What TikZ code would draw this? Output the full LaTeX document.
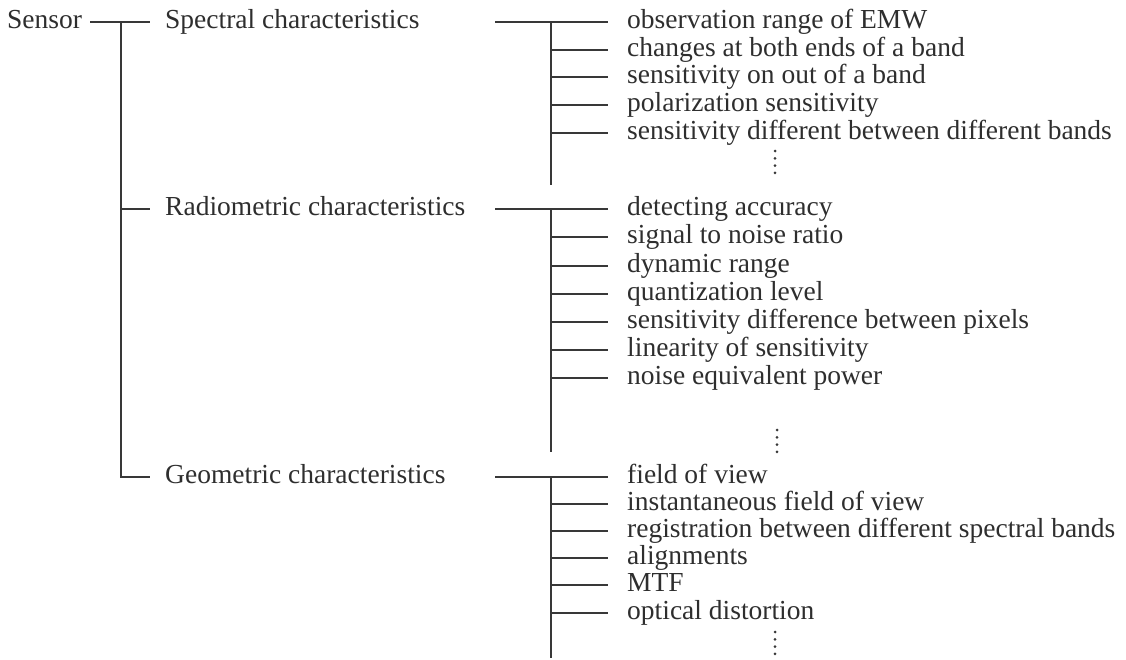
\documentclass[tikz,border=0pt]{standalone}
\usepackage{fontspec}
\setmainfont{Liberation Serif}
\definecolor{ink}{gray}{0.18}
\definecolor{rule}{gray}{0.22}
\tikzset{
  lbl/.style={inner sep=0pt, anchor=base west, yshift=-6.5pt, text=ink, font=\fontsize{27.5}{30}\selectfont},
  conn/.style={draw=rule, line width=1.6pt},
  dotmark/.style={fill=rule},
  row/.style={yshift=6.5pt}
}
\begin{document}
\begin{tikzpicture}[x=1pt,y=-1pt]
\useasboundingbox (0,0) rectangle (1126,659);
% level 0 and 1
\node[lbl] (sensor) at (7,22) {Sensor};
\node[lbl] (spec) at (165,22) {Spectral characteristics};
\node[lbl] (rad) at (165,209) {Radiometric characteristics};
\node[lbl] (geo) at (165,477) {Geometric characteristics};
\coordinate (trunk) at (121,22);
\draw[conn] ([row,xshift=8pt]sensor.base east) -- ([row,xshift=-15pt]spec.base west);
\draw[conn] (trunk) |- ([row,xshift=-15pt]geo.base west);
\draw[conn] (trunk |- rad.base west) ++(0,-6.5) -- ([row,xshift=-15pt]rad.base west);
% spectral items
\node[lbl] (s1) at (627,22) {observation range of EMW};
\node[lbl] (s2) at (627,50) {changes at both ends of a band};
\node[lbl] (s3) at (627,77) {sensitivity on out of a band};
\node[lbl] (s4) at (627,105) {polarization sensitivity};
\node[lbl] (s5) at (627,133) {sensitivity different between different bands};
\coordinate (sA) at (495,22);
\coordinate (sV) at (551,22);
\coordinate (sE) at (551,185);
\draw[conn] (sA) -- ([row,xshift=-19pt]s1.base west);
\draw[conn] (sV) -- (sE);
\foreach \n in {s2,s3,s4,s5}{\draw[conn] ([row]sV |- \n.base west) -- ([row,xshift=-19pt]\n.base west);}
\foreach \k in {0,1,2,3}{\fill[dotmark] (775,{151+7.3*\k}) circle (1.5pt);}
% radiometric items
\node[lbl] (r1) at (627,209) {detecting accuracy};
\node[lbl] (r2) at (627,237) {signal to noise ratio};
\node[lbl] (r3) at (627,266) {dynamic range};
\node[lbl] (r4) at (627,294) {quantization level};
\node[lbl] (r5) at (627,322) {sensitivity difference between pixels};
\node[lbl] (r6) at (627,350) {linearity of sensitivity};
\node[lbl] (r7) at (627,378) {noise equivalent power};
\coordinate (rA) at (495,209);
\coordinate (rV) at (551,209);
\coordinate (rE) at (551,452);
\draw[conn] (rA) -- ([row,xshift=-19pt]r1.base west);
\draw[conn] (rV) -- (rE);
\foreach \n in {r2,r3,r4,r5,r6,r7}{\draw[conn] ([row]rV |- \n.base west) -- ([row,xshift=-19pt]\n.base west);}
\foreach \k in {0,1,2,3}{\fill[dotmark] (777,{430+7.3*\k}) circle (1.5pt);}
% geometric items
\node[lbl] (g1) at (627,477) {field of view};
\node[lbl] (g2) at (627,504) {instantaneous field of view};
\node[lbl] (g3) at (627,531) {registration between different spectral bands};
\node[lbl] (g4) at (627,558) {alignments};
\node[lbl] (g5) at (627,585) {MTF};
\node[lbl] (g6) at (627,613) {optical distortion};
\coordinate (gA) at (495,477);
\coordinate (gV) at (551,477);
\coordinate (gE) at (551,658);
\draw[conn] (gA) -- ([row,xshift=-19pt]g1.base west);
\draw[conn] (gV) -- (gE);
\foreach \n in {g2,g3,g4,g5,g6}{\draw[conn] ([row]gV |- \n.base west) -- ([row,xshift=-19pt]\n.base west);}
\foreach \k in {0,1,2,3}{\fill[dotmark] (775,{632+7.3*\k}) circle (1.5pt);}
\end{tikzpicture}
\end{document}
